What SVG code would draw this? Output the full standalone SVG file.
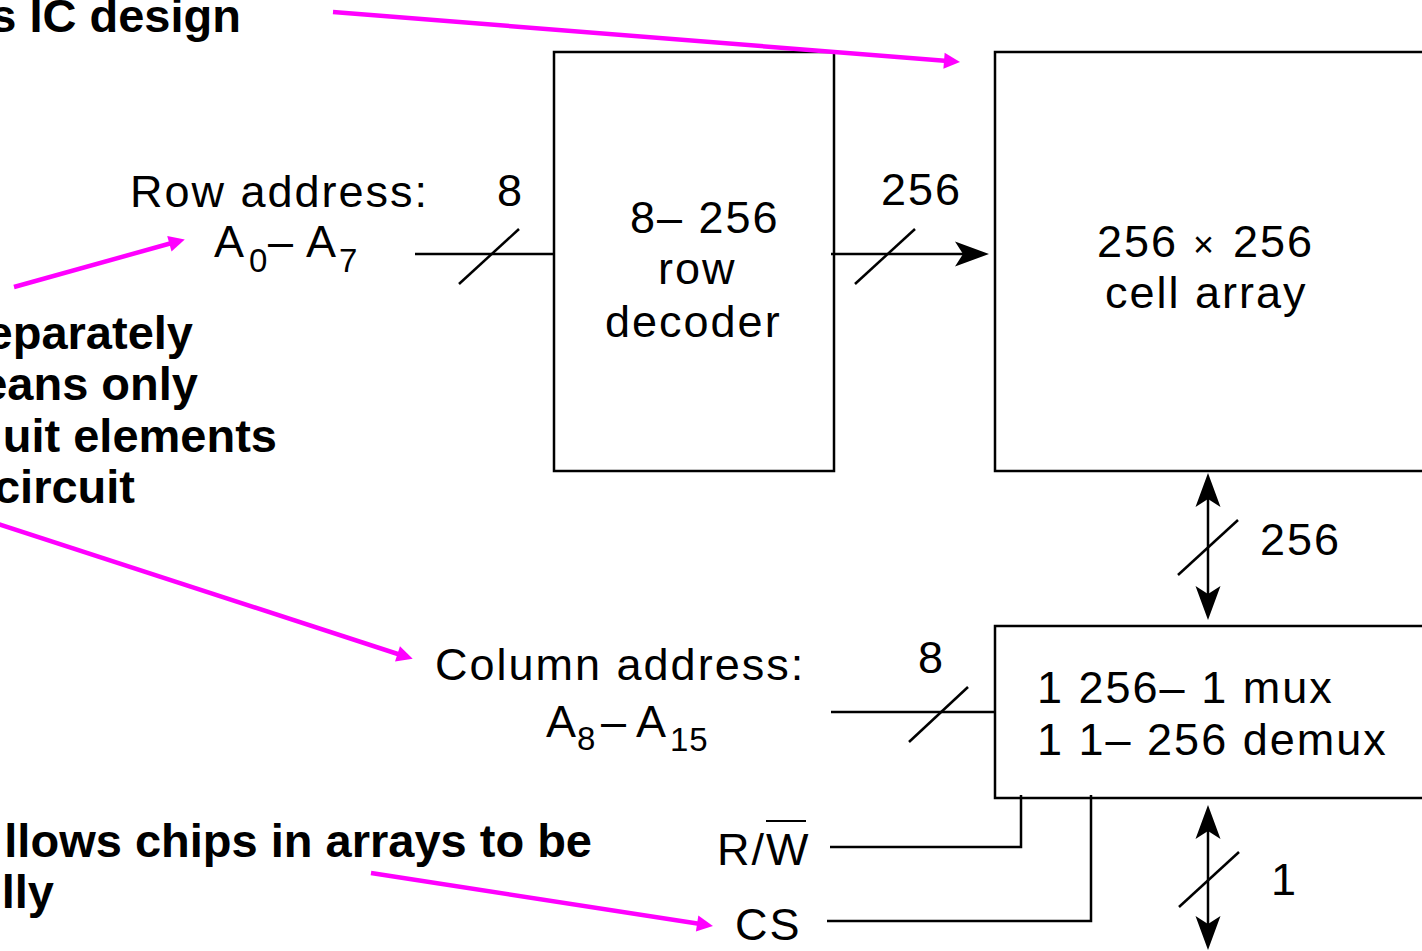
<svg xmlns="http://www.w3.org/2000/svg" width="1422" height="951" viewBox="0 0 1422 951">
<style>
.t{font-family:"Liberation Sans",Arial,sans-serif;font-size:45px;letter-spacing:2px;fill:#000}
.sub{font-size:33px;letter-spacing:1px}
.b{font-family:"Liberation Sans",Arial,sans-serif;font-size:47px;font-weight:bold;fill:#000;text-anchor:end}
.box{fill:#fff;stroke:#000;stroke-width:2.5}
.w{fill:none;stroke:#000;stroke-width:2.5}
.bus{fill:none;stroke:#000;stroke-width:2.5}
.m{fill:none;stroke:#FF00FF;stroke-width:4.5}
</style>
<defs>
<marker id="ah" markerUnits="userSpaceOnUse" viewBox="-36 -14 40 28" markerWidth="40" markerHeight="28" refX="-8" refY="0" orient="auto-start-reverse">
<path d="M0,0 L-34,-12.5 L-26,0 L-34,12.5 Z" fill="#000"/>
</marker>
<marker id="mh" markerUnits="userSpaceOnUse" viewBox="-18 -9 20 18" markerWidth="20" markerHeight="18" refX="-6" refY="0" orient="auto">
<path d="M0,0 L-16,-8 L-16,8 Z" fill="#FF00FF"/>
</marker>
</defs>
<rect width="1422" height="951" fill="#fff"/>

<g id="notes">
<text class="b" x="241" y="32">s IC design</text>
<text class="b" x="193" y="349">eparately</text>
<text class="b" x="198" y="400">eans only</text>
<text class="b" x="277" y="452">uit elements</text>
<text class="b" x="135" y="503">circuit</text>
<text class="b" x="592" y="857">llows chips in arrays to be</text>
<text class="b" x="54" y="908">lly</text>
</g>

<g id="row-decoder">
<rect class="box" x="554" y="52" width="280" height="419"/>
<text class="t" x="630" y="233">8– 256</text>
<text class="t" x="658" y="284">row</text>
<text class="t" x="605" y="337">decoder</text>
</g>

<g id="cell-array">
<rect class="box" x="995" y="52" width="440" height="419"/>
<text class="t" y="257"><tspan x="1097">256</tspan><tspan x="1193" style="font-size:36px">×</tspan><tspan x="1233">256</tspan></text>
<text class="t" x="1105" y="308">cell array</text>
</g>

<g id="mux">
<rect class="box" x="995" y="626" width="440" height="172"/>
<text class="t" x="1037" y="703">1 256– 1 mux</text>
<text class="t" x="1037" y="755">1 1– 256 demux</text>
</g>

<g id="row-address">
<text class="t" x="130" y="207">Row address:</text>
<text class="t" x="214" y="257">A<tspan class="sub" x="249" y="272">0</tspan><tspan x="268" y="257">–</tspan><tspan x="306" y="257">A</tspan><tspan class="sub" x="339" y="272">7</tspan></text>
</g>

<g id="column-address">
<text class="t" x="435" y="680">Column address:</text>
<text class="t" x="546" y="737">A<tspan class="sub" x="577" y="750">8</tspan><tspan x="601" y="737">–</tspan><tspan x="636" y="737">A</tspan><tspan class="sub" x="670" y="751">15</tspan></text>
</g>

<g id="rw">
<text class="t" x="717" y="865">R/W</text>
<line x1="766" y1="821" x2="806" y2="821" stroke="#000" stroke-width="2"/>
</g>

<g id="cs">
<text class="t" x="735" y="940">CS</text>
</g>

<g id="connectors">
<line class="w" x1="415" y1="254" x2="554" y2="254"/>
<line class="bus" x1="459" y1="284" x2="519" y2="229"/>
<text class="t" x="497" y="206">8</text>

<line class="w" x1="831" y1="254" x2="981" y2="254" marker-end="url(#ah)"/>
<line class="bus" x1="855" y1="284" x2="915" y2="229"/>
<text class="t" x="881" y="205">256</text>

<line class="w" x1="1208" y1="481" x2="1208" y2="612" marker-start="url(#ah)" marker-end="url(#ah)"/>
<line class="bus" x1="1178" y1="575" x2="1238" y2="520"/>
<text class="t" x="1260" y="555">256</text>

<line class="w" x1="831" y1="712" x2="995" y2="712"/>
<line class="bus" x1="909" y1="742" x2="968" y2="687"/>
<text class="t" x="918" y="673">8</text>

<polyline class="w" points="830,847 1021,847 1021,795"/>
<polyline class="w" points="827,921 1091,921 1091,795"/>

<line class="w" x1="1208" y1="813" x2="1208" y2="942" marker-start="url(#ah)" marker-end="url(#ah)"/>
<line class="bus" x1="1179" y1="907" x2="1239" y2="852"/>
<text class="t" x="1271" y="895">1</text>

<line class="m" x1="333" y1="12" x2="954" y2="61.5" marker-end="url(#mh)"/>
<line class="m" x1="14" y1="287" x2="179" y2="241" marker-end="url(#mh)"/>
<line class="m" x1="-5" y1="523" x2="407" y2="657" marker-end="url(#mh)"/>
<line class="m" x1="371" y1="873" x2="707" y2="925" marker-end="url(#mh)"/>
</g>
</svg>
